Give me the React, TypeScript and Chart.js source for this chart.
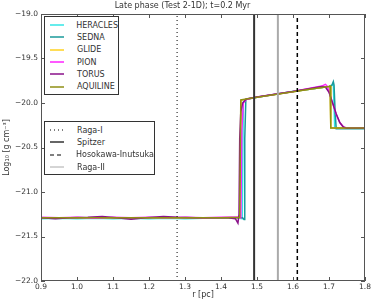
import React, { useEffect, useRef } from "react";
import { Chart, registerables } from "chart.js";

Chart.register(...registerables);

const TITLE = "Late phase (Test 2-1D); t=0.2 Myr";
const X_LABEL = "r [pc]";
const Y_LABEL = "Log\u2081\u2080 [g cm\u207B\u00B3]";
const X_MIN = 0.9, X_MAX = 1.8, Y_MIN = -22, Y_MAX = -19;

const seriesNames = ["HERACLES", "SEDNA", "GLIDE", "PION", "TORUS", "AQUILINE"];
const seriesColors = ["#33e6e6", "#1a9a9a", "#ffd21f", "#ff22ff", "#8a118a", "#8f8f14"];

const heraclesR = [0.9, 0.95, 1.0, 1.05, 1.1, 1.15, 1.2, 1.25, 1.3, 1.35, 1.4, 1.45, 1.459, 1.462, 1.47, 1.5, 1.6, 1.7, 1.708, 1.712, 1.716, 1.8];
const heraclesRho = [-21.3, -21.295, -21.3, -21.295, -21.3, -21.295, -21.3, -21.295, -21.3, -21.295, -21.295, -21.295, -21.3, -19.99, -19.96, -19.935, -19.872, -19.815, -19.80, -19.79, -20.285, -20.285];

const sednaR = [0.9, 1.0, 1.1, 1.2, 1.3, 1.4, 1.46, 1.464, 1.466, 1.469, 1.48, 1.5, 1.6, 1.7, 1.708, 1.712, 1.714, 1.717, 1.72, 1.8];
const sednaRho = [-21.295, -21.29, -21.295, -21.29, -21.295, -21.29, -21.29, -21.31, -20.4, -19.96, -19.95, -19.935, -19.872, -19.815, -19.80, -19.76, -19.80, -20.1, -20.29, -20.29];

const glideR = [0.9, 1.0, 1.1, 1.2, 1.3, 1.4, 1.453, 1.456, 1.5, 1.55, 1.6, 1.65, 1.7, 1.703, 1.705, 1.8];
const glideRho = [-21.29, -21.29, -21.29, -21.29, -21.29, -21.29, -21.29, -19.97, -19.935, -19.905, -19.873, -19.843, -19.815, -19.81, -20.28, -20.28];

const pionR = [0.9, 0.95, 1.0, 1.05, 1.1, 1.15, 1.2, 1.25, 1.3, 1.35, 1.4, 1.45, 1.455, 1.458, 1.462, 1.47, 1.5, 1.6, 1.68, 1.69, 1.695, 1.70, 1.71, 1.72, 1.73, 1.74, 1.75, 1.8];
const pionRho = [-21.285, -21.29, -21.285, -21.295, -21.285, -21.29, -21.285, -21.29, -21.285, -21.29, -21.285, -21.28, -21.29, -20.3, -20.0, -19.96, -19.933, -19.87, -19.81, -19.79, -19.81, -19.87, -20.0, -20.13, -20.22, -20.27, -20.28, -20.28];

const torusR = [0.9, 0.94, 0.98, 1.03, 1.07, 1.11, 1.15, 1.19, 1.24, 1.28, 1.33, 1.38, 1.42, 1.44, 1.447, 1.45, 1.452, 1.455, 1.46, 1.47, 1.5, 1.6, 1.68, 1.69, 1.70, 1.71, 1.72, 1.73, 1.74, 1.75, 1.8];
const torusRho = [-21.29, -21.30, -21.29, -21.285, -21.275, -21.29, -21.305, -21.29, -21.275, -21.285, -21.29, -21.29, -21.29, -21.30, -21.35, -21.25, -20.4, -20.1, -20.0, -19.955, -19.932, -19.87, -19.815, -19.82, -19.88, -20.0, -20.12, -20.22, -20.27, -20.285, -20.285];

const aquilineR = [0.9, 1.0, 1.1, 1.2, 1.3, 1.4, 1.452, 1.455, 1.5, 1.55, 1.6, 1.65, 1.7, 1.703, 1.705, 1.8];
const aquilineRho = [-21.29, -21.29, -21.29, -21.29, -21.29, -21.29, -21.285, -19.965, -19.935, -19.905, -19.873, -19.843, -19.815, -19.81, -20.28, -20.28];

const seriesR = [heraclesR, sednaR, glideR, pionR, torusR, aquilineR];
const seriesRho = [heraclesRho, sednaRho, glideRho, pionRho, torusRho, aquilineRho];

const refNames = ["Raga-I", "Spitzer", "Hosokawa-Inutsuka", "Raga-II"];
const refR = [1.278, 1.492, 1.612, 1.558];
const refColors = ["#000000", "#333333", "#000000", "#aaaaaa"];
const refWidths = [1, 2, 1.5, 2];
const refDash = [[1, 3], [], [4, 3], []];

const FONT = "'DejaVu Sans', sans-serif";
const TEXT = "#333";

const framePlugin = {
  id: "frame",
  afterDraw(chart: any) {
    const { ctx, chartArea: a, scales } = chart;
    ctx.save();
    ctx.strokeStyle = "#555";
    ctx.lineWidth = 1;
    ctx.strokeRect(a.left + 0.5, a.top + 0.5, a.right - a.left - 1, a.bottom - a.top - 1);
    const L = 4;
    ctx.beginPath();
    scales.x.ticks.forEach((t: any) => {
      const px = Math.round(scales.x.getPixelForValue(t.value)) + 0.5;
      ctx.moveTo(px, a.bottom); ctx.lineTo(px, a.bottom - L);
      ctx.moveTo(px, a.top); ctx.lineTo(px, a.top + L);
    });
    scales.y.ticks.forEach((t: any) => {
      const py = Math.round(scales.y.getPixelForValue(t.value)) + 0.5;
      ctx.moveTo(a.left, py); ctx.lineTo(a.left + L, py);
      ctx.moveTo(a.right, py); ctx.lineTo(a.right - L, py);
    });
    ctx.stroke();
    ctx.restore();
  },
};

function LegendBox({ left, top, width, items }: { left: number; top: number; width: number; items: { name: string; color: string; width: number; dash: number[] }[] }) {
  return (
    <div style={{ position: "absolute", left, top, width, border: "1px solid #333", background: "#fff", padding: "2px 0 1px 0", boxSizing: "border-box" }}>
      {items.map((it) => (
        <div key={it.name} style={{ display: "flex", alignItems: "center", height: 12.3, fontFamily: FONT, fontSize: 8, color: TEXT, whiteSpace: "nowrap" }}>
          <svg width={26} height={8} style={{ marginLeft: 4, marginRight: 2 }}>
            <line x1={1} y1={4} x2={15} y2={4} stroke={it.color} strokeWidth={it.width} strokeDasharray={it.dash.length ? it.dash.join(",") : undefined} />
          </svg>
          <span>{it.name}</span>
        </div>
      ))}
    </div>
  );
}

export default function App() {
  const ref = useRef<HTMLCanvasElement>(null);
  useEffect(() => {
    if (!ref.current) return;
    const datasets: any[] = [];
    seriesNames.forEach((n, i) => {
      datasets.push({
        label: n,
        data: seriesR[i].map((x, j) => ({ x, y: seriesRho[i][j] })),
        borderColor: seriesColors[i],
        borderWidth: 1.5,
        pointRadius: 0,
        tension: 0,
        order: 10 - i,
      });
    });
    refNames.forEach((n, i) => {
      datasets.push({
        label: n,
        data: [{ x: refR[i], y: Y_MIN }, { x: refR[i], y: Y_MAX }],
        borderColor: refColors[i],
        borderWidth: refWidths[i],
        borderDash: refDash[i],
        pointRadius: 0,
        order: 0,
      });
    });
    const chart = new Chart(ref.current, {
      type: "line",
      data: { datasets },
      options: {
        responsive: false,
        animation: false,
        devicePixelRatio: 1,
        layout: { padding: { left: 0, right: 9, top: 0, bottom: 0 } },
        plugins: {
          legend: { display: false },
          tooltip: { enabled: false },
          title: {
            display: true,
            text: TITLE,
            color: TEXT,
            font: { family: FONT, size: 8, weight: "normal" as any },
            padding: { top: 1, bottom: 3.4 },
          },
        },
        scales: {
          x: {
            type: "linear",
            min: X_MIN,
            max: X_MAX,
            grid: { display: false, drawTicks: false },
            border: { display: false },
            ticks: {
              stepSize: 0.1,
              color: TEXT,
              font: { family: FONT, size: 7.5 },
              padding: 2,
              maxRotation: 0,
              callback: (v: any) => Number(v).toFixed(1),
            },
            title: { display: true, text: X_LABEL, color: TEXT, font: { family: FONT, size: 8 }, padding: { top: 0, bottom: 4 } },
            afterFit: (s: any) => { s.height = 23; },
          },
          y: {
            type: "linear",
            min: Y_MIN,
            max: Y_MAX,
            grid: { display: false, drawTicks: false },
            border: { display: false },
            ticks: {
              stepSize: 0.5,
              color: TEXT,
              font: { family: FONT, size: 7.5 },
              padding: 3,
              callback: (v: any) => (Number(v) < 0 ? "\u2212" : "") + Math.abs(Number(v)).toFixed(1),
            },
            title: { display: true, text: Y_LABEL, color: TEXT, font: { family: FONT, size: 8 }, padding: { top: 2, bottom: 0 } },
            afterFit: (s: any) => { s.width = 41; },
          },
        },
      },
      plugins: [framePlugin],
    });
    return () => chart.destroy();
  }, []);

  const legend1 = seriesNames.map((n, i) => ({ name: n, color: seriesColors[i], width: 1.5, dash: [] as number[] }));
  const legend2 = refNames.map((n, i) => ({ name: n, color: refColors[i], width: i === 1 ? 1.5 : 1, dash: refDash[i] }));

  return (
    <div style={{ position: "fixed", left: 0, top: 0, width: 374, height: 304, background: "#fff" }}>
      <canvas ref={ref} width={374} height={304} style={{ display: "block" }} />
      <LegendBox left={44} top={16} width={75} items={legend1} />
      <LegendBox left={44} top={121} width={111} items={legend2} />
    </div>
  );
}
